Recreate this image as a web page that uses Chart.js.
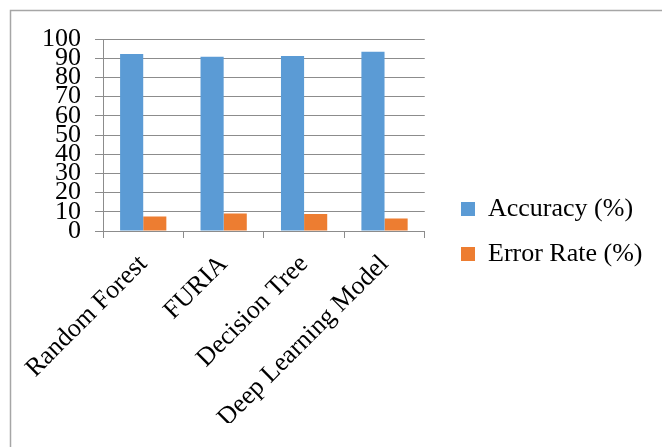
<!DOCTYPE html>
<html>
<head>
<meta charset="utf-8">
<script src="https://cdn.jsdelivr.net/npm/chart.js@4.4.1/dist/chart.umd.min.js"></script>
<style>
  html, body { margin: 0; padding: 0; background: #ffffff; }
  #wrap { width: 662px; height: 447px; position: relative; }
</style>
</head>
<body>
<div id="wrap"><canvas id="chart"></canvas></div>
<script>
// Model comparison: accuracy vs. error rate
const categories = ['Random Forest', 'FURIA', 'Decision Tree', 'Deep Learning Model'];
const accuracy = [92.2, 90.8, 91.1, 93.4];
const errorRate = [7.6, 9.1, 8.8, 6.5];
const seriesNames = ['Accuracy (%)', 'Error Rate (%)'];
const yTicks = [0, 10, 20, 30, 40, 50, 60, 70, 80, 90, 100];

const FONT = 'Liberation Serif';
const GRID = '#8c8c8c';

// Thin frame along the top and left edges of the chart
const framePlugin = {
  id: 'frame',
  beforeDraw(chart) {
    const ctx = chart.ctx;
    ctx.save();
    ctx.strokeStyle = '#a6a6a6';
    ctx.lineWidth = 1.5;
    ctx.beginPath();
    ctx.moveTo(10.5, chart.height);
    ctx.lineTo(10.5, 10.5);
    ctx.lineTo(chart.width, 10.5);
    ctx.stroke();
    ctx.restore();
  }
};

// Center the legend against the whole canvas height, Excel-style
const legendPlacer = {
  id: 'legendPlacer',
  afterLayout(chart) {
    const lg = chart.legend;
    if (!lg) return;
    lg.top = 16;
    lg.bottom = chart.height;
    lg.height = lg.bottom - lg.top;
    lg.left = 442;
    lg.right = chart.width;
    lg.width = lg.right - lg.left;
  }
};

new Chart(document.getElementById('chart'), {
  type: 'bar',
  data: {
    labels: categories,
    datasets: [
      { label: seriesNames[0], data: accuracy, backgroundColor: '#5b9bd5', borderWidth: 0,
        categoryPercentage: 0.575, barPercentage: 1.0 },
      { label: seriesNames[1], data: errorRate, backgroundColor: '#ed7d31', borderWidth: 0,
        categoryPercentage: 0.575, barPercentage: 1.0 }
    ]
  },
  options: {
    responsive: true,
    maintainAspectRatio: false,
    animation: false,
    layout: { padding: { left: 28, right: 105, top: 39, bottom: 24 } },
    plugins: {
      tooltip: { enabled: false },
      legend: {
        position: 'right',
        align: 'center',
        labels: {
          font: { family: FONT, size: 26 },
          color: '#000000',
          boxWidth: 14,
          boxHeight: 14,
          padding: 19
        }
      }
    },
    scales: {
      x: {
        grid: { drawOnChartArea: false, drawTicks: true, tickLength: 7, color: GRID, offset: true },
        border: { display: true, color: GRID, width: 1 },
        ticks: {
          font: { family: FONT, size: 26 },
          color: '#000000',
          minRotation: 45,
          maxRotation: 45,
          autoSkip: false,
          padding: 11
        }
      },
      y: {
        min: 0,
        max: 100,
        afterBuildTicks(scale) { scale.ticks = yTicks.map(v => ({ value: v })); },
        grid: { color: GRID, tickLength: 8, lineWidth: 1 },
        border: { display: true, color: GRID, width: 1 },
        ticks: {
          font: { family: FONT, size: 26 },
          color: '#000000',
          autoSkip: false,
          padding: 14
        }
      }
    }
  },
  plugins: [framePlugin, legendPlacer]
});
</script>
</body>
</html>
